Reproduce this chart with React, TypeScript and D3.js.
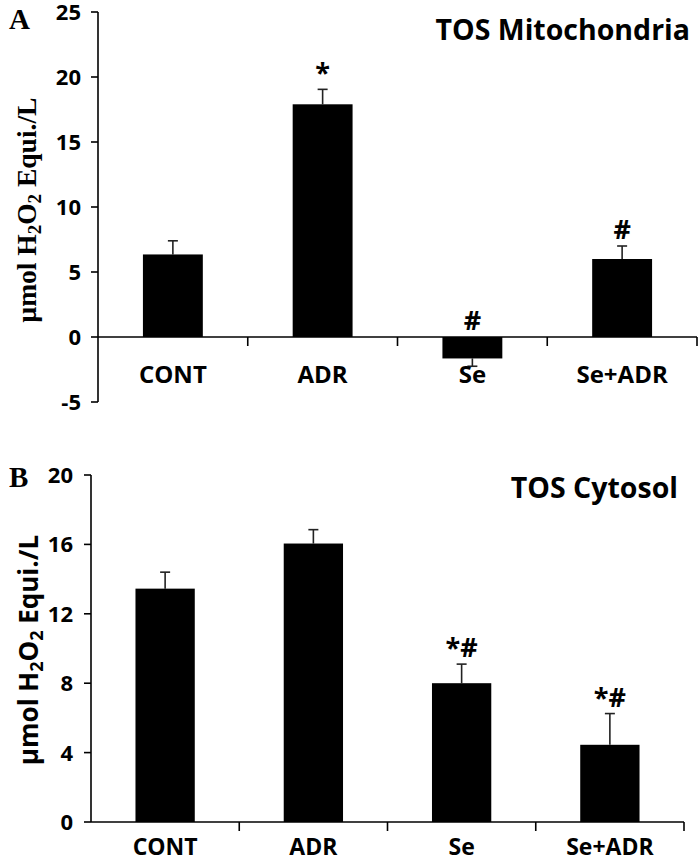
import React from 'react';
import * as d3 from 'd3';

const groups = ['CONT', 'ADR', 'Se', 'Se+ADR'];

const mitoMeans = [6.35, 17.9, -1.65, 6.0];
const mitoErrors = [1.05, 1.15, 0.6, 1.0];
const mitoMarks = ['', '*', '#', '#'];
const mitoTicks = [-5, 0, 5, 10, 15, 20, 25];

const cytoMeans = [13.45, 16.05, 8.0, 4.45];
const cytoErrors = [0.95, 0.8, 1.1, 1.8];
const cytoMarks = ['', '', '*#', '*#'];
const cytoTicks = [0, 4, 8, 12, 16, 20];

const SANS = '"Open Sans", Calibri, sans-serif';
const SERIF = '"Liberation Serif", "Times New Roman", serif';

function BarPanel({ means, errors, marks, ticks, domain, xRange, yRange, title, titleX, titleY, letter, letterY, yLabel, serifLabel, labelY, labelX, catY, catSize, tickLabelX }) {
    const x = d3.scaleBand().domain(groups).range(xRange).paddingInner(0.6).paddingOuter(0.3);
    const y = d3.scaleLinear().domain(domain).range(yRange);
    const y0 = y(0);
    const step = x.step();
    const bounds = groups.map((g, i) => xRange[0] + (i + 1) * step);

    return (
        <g>
            {/* bars + error bars */}
            {means.map((m, i) => {
                const cx = x(groups[i]) + x.bandwidth() / 2;
                const end = m + (m >= 0 ? errors[i] : -errors[i]);
                return (
                    <g key={i}>
                        <line x1={cx} x2={cx} y1={y(m)} y2={y(end)} stroke="#222" strokeWidth={1.6} />
                        <line x1={cx - 5} x2={cx + 5} y1={y(end)} y2={y(end)} stroke="#222" strokeWidth={1.6} />
                        <rect
                            x={x(groups[i])}
                            y={Math.min(y(m), y0)}
                            width={x.bandwidth()}
                            height={Math.abs(y(m) - y0)}
                            fill="#000"
                        />
                        {marks[i] && (
                            <text
                                x={cx}
                                y={(m >= 0 ? y(end) : y0) - 7}
                                textAnchor="middle"
                                fontFamily={SANS}
                                fontWeight="bold"
                                fontSize={27}
                            >
                                {marks[i]}
                            </text>
                        )}
                    </g>
                );
            })}

            {/* y axis */}
            <line x1={xRange[0]} x2={xRange[0]} y1={y(domain[1])} y2={y(domain[0])} stroke="#000" strokeWidth={1.6} />
            {ticks.map(t => (
                <g key={t}>
                    <line x1={xRange[0] - 7} x2={xRange[0]} y1={y(t)} y2={y(t)} stroke="#000" strokeWidth={1.6} />
                    <text
                        x={tickLabelX}
                        y={y(t)}
                        dy="0.36em"
                        textAnchor="end"
                        fontFamily={SANS}
                        fontWeight="bold"
                        fontSize={22}
                    >
                        {t}
                    </text>
                </g>
            ))}

            {/* x axis */}
            <line x1={xRange[0]} x2={xRange[1]} y1={y0} y2={y0} stroke="#000" strokeWidth={1.6} />
            {bounds.map((b, i) => (
                <line key={i} x1={b} x2={b} y1={y0} y2={y0 + 9} stroke="#000" strokeWidth={1.6} />
            ))}
            {groups.map(g => (
                <text
                    key={g}
                    x={x(g) + x.bandwidth() / 2}
                    y={catY}
                    textAnchor="middle"
                    fontFamily={SANS}
                    fontWeight="bold"
                    fontSize={catSize}
                >
                    {g}
                </text>
            ))}

            <text x={titleX} y={titleY} textAnchor="end" fontFamily={SANS} fontWeight="bold" fontSize={28.5}>
                {title}
            </text>
            <text x={9} y={letterY} fontFamily={SERIF} fontWeight="bold" fontSize={29}>
                {letter}
            </text>

            <text
                transform={`translate(${labelX},${labelY}) rotate(-90)`}
                textAnchor="middle"
                fontFamily={serifLabel ? SERIF : SANS}
                fontWeight="bold"
                fontSize={serifLabel ? 27.5 : 26}
            >
                {yLabel[0]}
                <tspan dy={5} fontSize={serifLabel ? 19 : 18}>2</tspan>
                <tspan dy={-5}>O</tspan>
                <tspan dy={5} fontSize={serifLabel ? 19 : 18}>2</tspan>
                <tspan dy={-5}>{yLabel[1]}</tspan>
            </text>
        </g>
    );
}

export default function App() {
    return (
        <svg width={699} height={862} style={{ position: 'absolute', left: 0, top: 0, background: '#fff' }}>
            <BarPanel
                means={mitoMeans}
                errors={mitoErrors}
                marks={mitoMarks}
                ticks={mitoTicks}
                domain={[-5, 25]}
                xRange={[98, 697]}
                yRange={[402, 12]}
                title="TOS Mitochondria"
                titleX={690}
                titleY={40}
                letter="A"
                letterY={29}
                yLabel={['μmol H', ' Equi./L']}
                serifLabel={true}
                labelX={36}
                labelY={210}
                catY={383}
                catSize={24}
                tickLabelX={81}
            />
            <BarPanel
                means={cytoMeans}
                errors={cytoErrors}
                marks={cytoMarks}
                ticks={cytoTicks}
                domain={[0, 20]}
                xRange={[91, 684]}
                yRange={[822, 475]}
                title="TOS Cytosol"
                titleX={678}
                titleY={498}
                letter="B"
                letterY={487}
                yLabel={['μmol H', ' Equi./L']}
                serifLabel={false}
                labelX={38}
                labelY={650}
                catY={855}
                catSize={23}
                tickLabelX={73}
            />
        </svg>
    );
}
